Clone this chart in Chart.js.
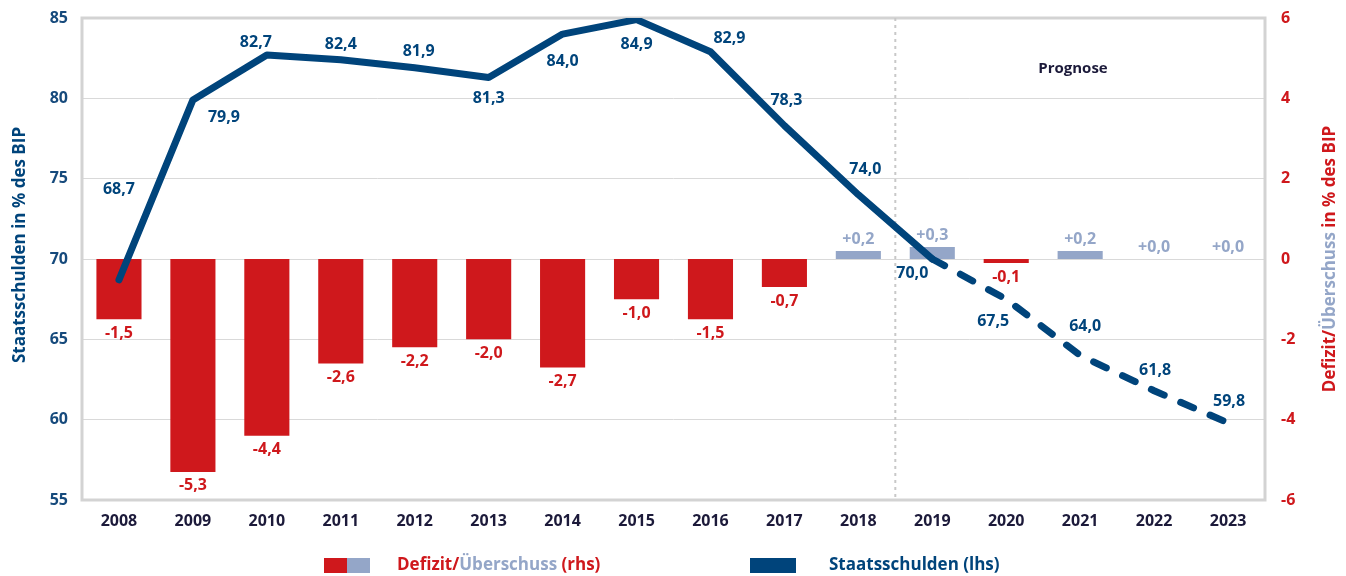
<!DOCTYPE html>
<html>
<head>
<meta charset="utf-8">
<script src="https://cdn.jsdelivr.net/npm/chart.js@4"></script>
<style>
  html, body { margin: 0; padding: 0; background: #fff; }
  #wrap { width: 1346px; height: 576px; }
</style>
</head>
<body>
<div id="wrap"><canvas id="schuldenChart" width="1346" height="576"></canvas></div>
<script>
// Daten
const jahre = ["2008", "2009", "2010", "2011", "2012", "2013", "2014", "2015",
               "2016", "2017", "2018", "2019", "2020", "2021", "2022", "2023"];
const staatsschulden = [68.7, 79.9, 82.7, 82.4, 81.9, 81.3, 84.0, 84.9,
                        82.9, 78.3, 74.0, 70.0, 67.5, 64.0, 61.8, 59.8];
const saldo = [-1.5, -5.3, -4.4, -2.6, -2.2, -2.0, -2.7, -1.0,
               -1.5, -0.7, 0.2, 0.3, -0.1, 0.2, 0.0, 0.0];
const prognoseAb = 11; // Index von 2019

const ROT = "#cf181c";
const HELLBLAU = "#94a6c8";
const DUNKELBLAU = "#00447b";
const SCHRIFT = "'Open Sans', 'Noto Sans', sans-serif";

// Versatz der Beschriftungen der Linie (dx, dy)
const linienLabelVersatz = [
    [0, -90], [31, 17], [-11, -13], [0, -15], [4, -16], [0, 21], [0, 27], [0, 25],
    [19, -13], [2, -25], [7, -25], [-20, 14], [-13, 22], [5, -29], [1, -20], [1, -21]
];

function zahl(v, plus) {
    let s = v.toFixed(1).replace(".", ",");
    if (plus && v >= 0) s = "+" + s;
    return s;
}

const extras = {
    id: "extras",
    beforeDatasetsDraw(chart) {
        const { ctx, chartArea: a, scales } = chart;
        ctx.save();
        // Rahmen
        ctx.strokeStyle = "#d3d3d3";
        ctx.lineWidth = 3;
        ctx.strokeRect(a.left, a.top, a.right - a.left, a.bottom - a.top);
        // Trennlinie Prognose
        let x = (scales.x.getPixelForValue(prognoseAb - 1) + scales.x.getPixelForValue(prognoseAb)) / 2;
        ctx.strokeStyle = "#c8c8c8";
        ctx.lineWidth = 2;
        ctx.setLineDash([3, 4]);
        ctx.beginPath();
        ctx.moveTo(x, a.top);
        ctx.lineTo(x, a.bottom);
        ctx.stroke();
        ctx.setLineDash([]);
        // Prognose
        ctx.fillStyle = "#1c1a3a";
        ctx.font = "bold 15px " + SCHRIFT;
        ctx.textAlign = "center";
        ctx.textBaseline = "middle";
        ctx.fillText("Prognose", 1073, 69);
        ctx.restore();
    },
    afterDatasetsDraw(chart) {
        const { ctx } = chart;
        ctx.save();
        ctx.textAlign = "center";
        ctx.textBaseline = "middle";
        ctx.font = "bold 16px " + SCHRIFT;

        // Balkenbeschriftung
        let balken = chart.getDatasetMeta(1).data;
        saldo.forEach((v, i) => {
            let b = balken[i];
            if (v < 0) {
                ctx.fillStyle = ROT;
                ctx.fillText(zahl(v, false), b.x, b.y + 14);
            } else {
                ctx.fillStyle = HELLBLAU;
                ctx.fillText(zahl(v, true), b.x, b.y - 12);
            }
        });

        // Linienbeschriftung
        let punkte = chart.getDatasetMeta(0).data;
        ctx.fillStyle = DUNKELBLAU;
        staatsschulden.forEach((v, i) => {
            let p = punkte[i];
            let [dx, dy] = linienLabelVersatz[i];
            ctx.fillText(zahl(v, false), p.x + dx, p.y + dy);
        });

        // Achsentitel links
        ctx.font = "bold 17px " + SCHRIFT;
        ctx.save();
        ctx.translate(20, 245);
        ctx.rotate(-Math.PI / 2);
        ctx.fillStyle = DUNKELBLAU;
        ctx.fillText("Staatsschulden in % des BIP", 0, 0);
        ctx.restore();

        // Achsentitel rechts (mehrfarbig)
        ctx.save();
        ctx.translate(1330, 259);
        ctx.rotate(-Math.PI / 2);
        let teile = [["Defizit/", ROT], ["Überschuss", HELLBLAU], [" in % des BIP", ROT]];
        let gesamt = teile.reduce((s, t) => s + ctx.measureText(t[0]).width, 0);
        let px = -gesamt / 2;
        ctx.textAlign = "left";
        teile.forEach(t => {
            ctx.fillStyle = t[1];
            ctx.fillText(t[0], px, 0);
            px += ctx.measureText(t[0]).width;
        });
        ctx.restore();

        // Legende
        let ly = 565;
        ctx.fillStyle = ROT;
        ctx.fillRect(324, ly - 7, 23, 15);
        ctx.fillStyle = HELLBLAU;
        ctx.fillRect(347, ly - 7, 23, 15);
        ctx.textAlign = "left";
        let lx = 397;
        [["Defizit/", ROT], ["Überschuss", HELLBLAU], [" (rhs)", ROT]].forEach(t => {
            ctx.fillStyle = t[1];
            ctx.fillText(t[0], lx, ly);
            lx += ctx.measureText(t[0]).width;
        });
        ctx.fillStyle = DUNKELBLAU;
        ctx.fillRect(750, ly - 7, 46, 15);
        ctx.fillText("Staatsschulden (lhs)", 829, ly);
        ctx.restore();
    }
};

const ctx = document.getElementById("schuldenChart").getContext("2d");

new Chart(ctx, {
    type: "bar",
    data: {
        labels: jahre,
        datasets: [{
            type: "line",
            label: "Staatsschulden (lhs)",
            data: staatsschulden,
            yAxisID: "y",
            borderColor: DUNKELBLAU,
            borderWidth: 7,
            borderCapStyle: "round",
            borderJoinStyle: "round",
            pointRadius: 0,
            tension: 0,
            order: 1,
            segment: {
                borderDash: c => c.p0DataIndex >= prognoseAb ? [14, 18] : undefined
            }
        }, {
            type: "bar",
            label: "Defizit/Überschuss (rhs)",
            data: saldo,
            yAxisID: "y2",
            backgroundColor: saldo.map(v => v < 0 ? ROT : HELLBLAU),
            barPercentage: 0.61,
            categoryPercentage: 1,
            order: 2
        }]
    },
    options: {
        responsive: false,
        animation: false,
        layout: { padding: { top: 18, left: 0, right: 0, bottom: 0 } },
        plugins: {
            legend: { display: false },
            tooltip: { enabled: false }
        },
        scales: {
            x: {
                offset: true,
                grid: { display: false, drawTicks: false },
                border: { display: false },
                ticks: {
                    color: "#1c1a3a",
                    font: { family: SCHRIFT, size: 16, weight: "bold" },
                    padding: 12,
                    maxRotation: 0
                },
                afterFit: s => { s.height = 76; s.paddingLeft = 0; s.paddingRight = 0; }
            },
            y: {
                position: "left",
                min: 55,
                max: 85,
                ticks: {
                    stepSize: 5,
                    color: "#164a7c",
                    font: { family: SCHRIFT, size: 16, weight: "bold" },
                    padding: 14
                },
                grid: { color: "#d9d9d9", lineWidth: 1, drawTicks: false },
                border: { display: false },
                afterFit: s => { s.width = 82; s.paddingTop = 0; s.paddingBottom = 0; }
            },
            y2: {
                position: "right",
                min: -6,
                max: 6,
                ticks: {
                    stepSize: 2,
                    color: ROT,
                    font: { family: SCHRIFT, size: 16, weight: "bold" },
                    padding: 16
                },
                grid: { display: false, drawTicks: false },
                border: { display: false },
                afterFit: s => { s.width = 81; s.paddingTop = 0; s.paddingBottom = 0; }
            }
        }
    },
    plugins: [extras]
});
</script>
</body>
</html>
